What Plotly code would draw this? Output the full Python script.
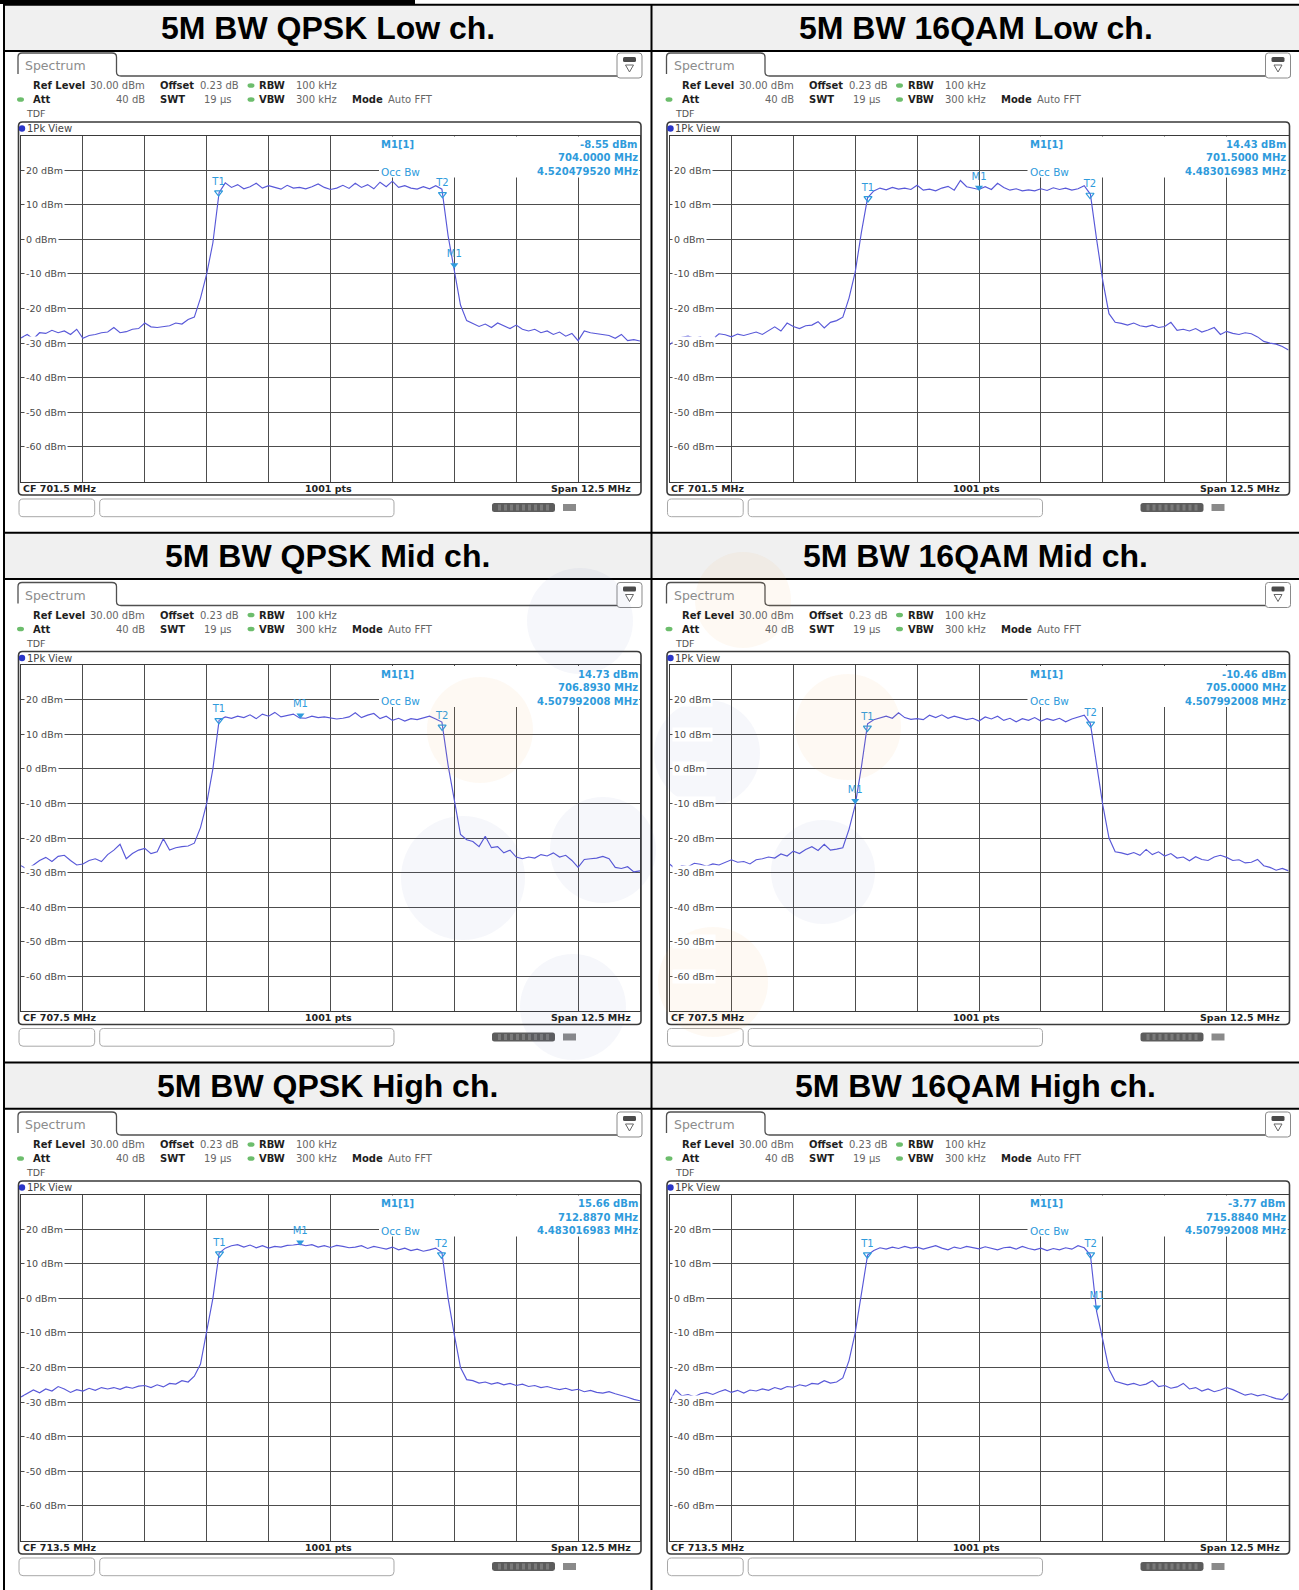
import numpy as np
import plotly.graph_objects as go

W, H = 1299, 1590

# ---------------- data ----------------
titles = ["5M BW QPSK Low ch.", "5M BW 16QAM Low ch.",
          "5M BW QPSK Mid ch.", "5M BW 16QAM Mid ch.",
          "5M BW QPSK High ch.", "5M BW 16QAM High ch."]
center_freqs = [701.5, 701.5, 707.5, 707.5, 713.5, 713.5]
span = 12.5
sweep_points = 101
offsets = np.linspace(-span / 2, span / 2, sweep_points)  # MHz from CF

y_ticks = [-60, -50, -40, -30, -20, -10, 0, 10, 20]
y_tick_text = [f"{v} dBm" for v in y_ticks]

qpsk_low = [
    -28.5, -27.5, -28.8, -27, -27.2, -26.3, -27, -26.5, -27.5, -26, -28.6, -27.8, -27.5, -27,
    -26.8, -25.5, -27, -26.7, -26, -25.8, -24.2, -25.3, -25.5, -25.2, -25, -24.2, -24.5, -23.2,
    -22.5, -17, -10, -1, 13.5,
    16.3, 15, 15.8, 14.6, 15.2, 16.2, 14.8, 15.5, 15, 14.5, 15.6, 14.8, 15, 14.6, 15.2, 16, 15,
    14.4, 14.8, 15.6, 14.7, 16.2, 15, 15.8, 14.6, 16.5, 15.2, 16.8, 15, 15.5, 14.8, 14.5, 15.2,
    14.6, 15.5,
    14.5, 1, -8.6, -19, -23.5,
    -24.3, -25.2, -24.5, -25.5, -24.2, -25, -25.8, -24.8, -26, -26.5, -26, -27, -26.5, -27.5,
    -26.8, -28, -27.2, -29.3, -26.5, -27, -27.2, -27.5, -27.8, -28.6, -27.5, -29.3, -29, -29.4]

qam16_low = [
    -30.5, -29, -28.3, -28, -28.6, -28.2, -29.5, -28.8, -27.3, -27.6, -28.2, -27.4, -27.8, -27.3,
    -26.8, -27.5, -26.5, -25.3, -26.5, -24.2, -25.2, -25.8, -25, -24.8, -23.8, -25.6, -24, -23.5,
    -22.5, -17, -9.5, 2, 12,
    14, 14.8, 14.3, 15, 14.5, 14.8, 14.4, 15.6, 14.2, 14.5, 14.0, 14.8, 15.3, 14.2, 17.0, 15.2,
    14.8, 14.4, 15.2, 14.4, 16.2, 15.0, 14.2, 14.6, 14.0, 14.3, 14.0, 14.6, 14.1, 14.9, 14.4,
    14.8, 14.2, 14.6, 15.5,
    13, 0, -12, -21.5, -24,
    -24.3, -24.8, -24.2, -25, -25.3, -24.8, -25.5, -25.2, -24, -26.3, -26, -26.5, -25.8, -26.8,
    -26.2, -25.5, -27.5, -26.6, -27.2, -27.5, -27, -27.3, -28.2, -29.5, -30, -30.3, -31, -32]

qpsk_mid = [
    -28, -29, -27.8, -26.5, -25.6, -26.8, -25.3, -25, -26.5, -27.8, -27.5, -26.5, -26, -26.8,
    -24.8, -23.5, -21.8, -26, -24.5, -23.5, -23, -24.5, -24, -20.2, -23.5, -22.8, -22.5, -22.3,
    -21.5, -17, -10, 0, 14,
    15, 14.6, 15.2, 14.8, 15.6, 14.5, 15.8, 15.2, 16.3, 15, 15.5, 15.8, 14.7, 14.6, 15.2, 14.8,
    15, 14.6, 14.4, 14.6, 15.0, 16.2, 14.8, 15.5, 16, 14.5, 15.2, 14.0, 14.6, 13.8, 14.5, 14.2,
    14.8, 15.2, 14.4,
    13.5, 1, -8.7, -19, -20.5,
    -21, -22.5, -19.5, -22.8, -22.5, -24.3, -23.5, -25.5, -26, -25.5, -25.8, -24.8, -25.2, -24.3,
    -25.5, -25, -26.5, -28.5, -26.2, -26, -25.8, -25.3, -26, -28.5, -28.8, -28.3, -29.8, -29.5]

qam16_mid = [
    -27.5, -29, -28, -28.3, -27.3, -27.6, -28.2, -27.5, -27.8, -27, -26.3, -27, -26.8, -27.5,
    -26.3, -26, -25.5, -25.8, -24.6, -25.2, -23.8, -24.5, -23.3, -22.5, -23.6, -21.8, -23.5, -23.2,
    -22.8, -17.5, -10.5, 0.5, 13,
    14.2, 14.8, 15.2, 14.6, 16.2, 14.8, 14.3, 14.5, 14.2, 15.5, 14.8, 15.6, 14.6, 15.2, 14.8,
    14.2, 14.6, 13.8, 15.0, 14.4, 15.2, 14.0, 14.6, 13.6, 14.5, 14.0, 14.8, 13.8, 14.5, 14.0,
    14.6, 13.6, 14.4, 15.0, 15.5,
    13, 0.5, -10.5, -20, -24,
    -24.3, -24.8, -24.2, -25, -23.3, -24.8, -24, -25.2, -24.5, -25.8, -25.5, -26.6, -25.4, -26.2,
    -26.5, -25.5, -25, -25.6, -26.5, -26.3, -27.2, -27, -26.2, -28, -28.5, -29.3, -28.8, -29.5]

qpsk_high = [
    -28.5, -27.5, -26.5, -27.3, -26.2, -26.8, -25.5, -26.2, -27.2, -26.4, -26.8, -26, -26.6, -25.8,
    -26.2, -25.8, -26.3, -25.6, -26, -25.4, -25.2, -25.8, -25, -25.6, -24.6, -24.8, -23.8, -24.2,
    -22.5, -19, -10, 0, 13,
    14.5, 15.2, 15.5, 14.8, 15.4, 14.6, 15.2, 14.5, 15, 14.8, 15.3, 15.4, 15.66, 15.2, 15.5, 14.8,
    15.2, 14.7, 15.3, 15.0, 14.6, 14.8, 15.2, 14.4, 15.0, 14.6, 14.2, 14.8, 14.0, 14.5, 13.8,
    14.2, 13.6, 14.0, 14.5,
    13.2, 0, -10.5, -20, -23.5,
    -23.8, -24.5, -24.2, -24.8, -24.4, -25, -24.6, -25.2, -24.8, -25.5, -25.2, -25.8, -25.5, -26,
    -26.4, -26, -26.6, -26.3, -27, -26.6, -27.2, -27.4, -27, -27.6, -28, -28.6, -29.2, -29.6]

qam16_high = [
    -30, -26.5, -28.2, -27.8, -28.5, -27.6, -27.2, -27.8, -27, -26.4, -27.2, -26.6, -27.4, -26.5,
    -26.8, -26.2, -26.6, -25.8, -26.3, -25.5, -25.7, -25, -25.4, -24.6, -24.8, -23.8, -24.5, -24.2,
    -23, -18, -10, 1, 12.5,
    13.8, 14.6, 14.2, 14.8, 14.4, 15.0, 14.5, 14.8, 14.2, 14.6, 15.2, 14.5, 14.0, 14.8, 14.4,
    15.0, 14.6, 14.3, 14.9, 14.5, 14.0, 14.6, 14.8, 14.2, 15.0, 14.4, 14.0, 14.5, 13.8, 14.4,
    14.0, 14.6, 14.2, 15.2, 14.6,
    12.5, -3.8, -12, -20.5, -24,
    -24.5, -25, -24.6, -25.2, -24.8, -23.8, -25.5, -25.2, -26, -25.6, -24.6, -26.2, -25.8, -26.8,
    -26.2, -27, -26.5, -25.8, -26.4, -27.2, -28, -27.6, -28.2, -27.8, -28.4, -29, -29.3, -27.4]

traces_levels = [qpsk_low, qam16_low, qpsk_mid, qam16_mid, qpsk_high, qam16_high]

occ_bw = [4.520479520, 4.483016983, 4.507992008, 4.507992008, 4.483016983, 4.507992008]
m1_freqs = [704.0, 701.5, 706.893, 705.0, 712.887, 715.884]
m1_levels = [-8.55, 14.43, 14.73, -10.46, 15.66, -3.77]
# heights (dBm) at which the marker triangles are drawn
t1_marks = [13.5, 11.8, 14.0, 11.8, 12.9, 12.6]
t2_marks = [13.0, 12.8, 12.1, 13.0, 12.6, 12.6]
m1_marks = [-7.4, 15.0, 15.5, -9.2, 16.2, -2.6]

# ---------------- helpers ----------------
shapes, annotations = [], []
TRACE = "#5858d8"
MK = "#2f9bdc"
GRID = "#4d4d4d"


def P(x, y):
    return f"{x / W:.6f},{1 - y / H:.6f}"


def rrect_d(x0, y0, x1, y1, r):
    return (f"M{P(x0 + r, y0)} L{P(x1 - r, y0)} Q{P(x1, y0)} {P(x1, y0 + r)} "
            f"L{P(x1, y1 - r)} Q{P(x1, y1)} {P(x1 - r, y1)} L{P(x0 + r, y1)} "
            f"Q{P(x0, y1)} {P(x0, y1 - r)} L{P(x0, y0 + r)} Q{P(x0, y0)} {P(x0 + r, y0)} Z")


def path(d, color=None, width=1.0, fill=None, layer="above"):
    shapes.append(dict(type="path", xref="paper", yref="paper", path=d, layer=layer,
                       line=dict(color=color or "rgba(0,0,0,0)", width=width if color else 0),
                       fillcolor=fill or "rgba(0,0,0,0)"))


def rect(x0, y0, x1, y1, fill, layer="below"):
    shapes.append(dict(type="rect", xref="paper", yref="paper", x0=x0 / W, x1=x1 / W,
                       y0=1 - y1 / H, y1=1 - y0 / H, fillcolor=fill,
                       line=dict(width=0, color=fill), layer=layer))


def hline(x0, x1, y, color="black", width=2, layer="above"):
    shapes.append(dict(type="line", xref="paper", yref="paper", x0=x0 / W, x1=x1 / W,
                       y0=1 - y / H, y1=1 - y / H, line=dict(color=color, width=width), layer=layer))


def vline(x, y0, y1, color="black", width=2, layer="above"):
    shapes.append(dict(type="line", xref="paper", yref="paper", x0=x / W, x1=x / W,
                       y0=1 - y0 / H, y1=1 - y1 / H, line=dict(color=color, width=width), layer=layer))


def ellipse(cx, cy, rx, ry, fill, layer="above"):
    shapes.append(dict(type="circle", xref="paper", yref="paper", x0=(cx - rx) / W, x1=(cx + rx) / W,
                       y0=1 - (cy + ry) / H, y1=1 - (cy - ry) / H, fillcolor=fill,
                       line=dict(width=0, color=fill), layer=layer))


def txt(x, y, s, size=10, color="#222", anchor="left", bold=False, family="DejaVu Sans"):
    annotations.append(dict(xref="paper", yref="paper", x=x / W, y=1 - y / H,
                            text=f"<b>{s}</b>" if bold else s, showarrow=False,
                            xanchor=anchor, yanchor="middle", borderpad=0, borderwidth=0,
                            font=dict(family=family, size=size, color=color)))


# ---------------- table frame ----------------
title_tops = [4.7, 532.8, 1062.5]
title_h = 46.3
for r, top in enumerate(title_tops):
    rect(4, top, W, top + title_h, "#f0f0f0")
    txt(327.8, top + title_h / 2 + 0.5, titles[2 * r], 32, "black", "center", True, "Liberation Sans")
    txt(975.5, top + title_h / 2 + 0.5, titles[2 * r + 1], 32, "black", "center", True, "Liberation Sans")

fig = go.Figure()

col_dx = [0, 648.5]
row_dy = [0, 529.5, 1059]
GX0, GX1, GY0, GY1 = 21, 640, 135.5, 481.5

layout_axes = {}
for k in range(6):
    r, c = divmod(k, 2)
    ox, oy = col_dx[c], row_dy[r]
    cf = center_freqs[k]
    ax = "" if k == 0 else str(k + 1)
    xa, ya = "x" + ax, "y" + ax

    layout_axes["xaxis" + ax] = dict(
        domain=[(GX0 + ox) / W, (GX1 + ox) / W], range=[cf - span / 2, cf + span / 2],
        tick0=cf - span / 2, dtick=span / 10, showgrid=True, gridcolor=GRID, gridwidth=1,
        showticklabels=False, ticks="", zeroline=False, showline=True, mirror=True,
        linecolor="#3a3a3a", linewidth=1.2, anchor=ya, fixedrange=True)
    layout_axes["yaxis" + ax] = dict(
        domain=[1 - (GY1 + oy) / H, 1 - (GY0 + oy) / H], range=[-70, 30],
        tickvals=y_ticks, showticklabels=False, ticks="",
        showgrid=True, gridcolor=GRID, gridwidth=1, zeroline=False, showline=True, mirror=True,
        linecolor="#3a3a3a", linewidth=1.2, anchor=xa, fixedrange=True)

    # y labels drawn inside the grid on a white backing (cuts the grid line like the instrument)
    for v, t in zip(y_ticks, y_tick_text):
        annotations.append(dict(xref=f"{xa} domain", yref=ya, x=2.5 / (GX1 - GX0), y=v,
                                text=t, showarrow=False, xanchor="left", yanchor="middle",
                                bgcolor="white", borderpad=1,
                                font=dict(family="DejaVu Sans", size=9.5, color="#4a4a4a")))

    freqs = cf + offsets
    fig.add_trace(go.Scatter(x=freqs, y=traces_levels[k], mode="lines", xaxis=xa, yaxis=ya,
                             line=dict(color=TRACE, width=1.15), hoverinfo="skip"))
    t1 = cf - occ_bw[k] / 2
    t2 = cf + occ_bw[k] / 2
    fig.add_trace(go.Scatter(x=[t1, t2], y=[t1_marks[k], t2_marks[k]], mode="markers+text",
                             text=["T1", "T2"], textposition="top center", xaxis=xa, yaxis=ya,
                             textfont=dict(family="DejaVu Sans", size=10, color=MK),
                             marker=dict(symbol="triangle-down-open", size=7, color=MK,
                                         line=dict(width=1.2, color=MK)), hoverinfo="skip"))
    fig.add_trace(go.Scatter(x=[m1_freqs[k]], y=[m1_marks[k]], mode="markers+text",
                             text=["M1"], textposition="top center", xaxis=xa, yaxis=ya,
                             textfont=dict(family="DejaVu Sans", size=10, color=MK),
                             marker=dict(symbol="triangle-down", size=7, color=MK),
                             hoverinfo="skip"))

    # ---- instrument chrome ----
    X = lambda v: v + ox
    Y = lambda v: v + oy
    # white panel under marker readout (hides grid there)
    rect(X(379), Y(136.6), X(639.2), Y(177.5), "white", layer="above")
    # tab + header line
    path(f"M{P(X(18), Y(74))} L{P(X(18), Y(57))} Q{P(X(18), Y(53))} {P(X(22), Y(53))} "
         f"L{P(X(112), Y(53))} Q{P(X(116.5), Y(53))} {P(X(116.5), Y(57))} L{P(X(116.5), Y(72))} "
         f"Q{P(X(116.5), Y(76))} {P(X(121), Y(76))} L{P(X(642), Y(76))}", "#505050", 1.3)
    txt(X(25), Y(65.5), "Spectrum", 12.5, "#8c8c8c")
    # icon top right
    path(rrect_d(X(617), Y(53), X(642), Y(78), 3), "#8a8a8a", 1, "white")
    path(rrect_d(X(623), Y(57), X(636), Y(62), 1.5), None, 0, "#4a4a4a")
    path(f"M{P(X(625.5), Y(65))} L{P(X(633.5), Y(65))} L{P(X(629.5), Y(72))} Z", "#666", 1)
    # info header
    txt(X(33), Y(85.5), "Ref Level", 10, "#1e1e1e", bold=True)
    txt(X(145), Y(85.5), "30.00 dBm", 10, "#666", "right")
    txt(X(160), Y(85.5), "Offset", 10, "#1e1e1e", bold=True)
    txt(X(200), Y(85.5), "0.23 dB", 10, "#666")
    txt(X(259), Y(85.5), "RBW", 10, "#1e1e1e", bold=True)
    txt(X(296), Y(85.5), "100 kHz", 10, "#666")
    txt(X(33), Y(99.5), "Att", 10, "#1e1e1e", bold=True)
    txt(X(145), Y(99.5), "40 dB", 10, "#666", "right")
    txt(X(160), Y(99.5), "SWT", 10, "#1e1e1e", bold=True)
    txt(X(231), Y(99.5), "19 µs", 10, "#666", "right")
    txt(X(259), Y(99.5), "VBW", 10, "#1e1e1e", bold=True)
    txt(X(296), Y(99.5), "300 kHz", 10, "#666")
    txt(X(352), Y(99.5), "Mode", 10, "#1e1e1e", bold=True)
    txt(X(388), Y(99.5), "Auto FFT", 10, "#666")
    txt(X(26), Y(113.5), "TDF", 9.5, "#555")
    for gx, gy in [(251, 85.5), (251, 99.5), (20.5, 99.5)]:
        ellipse(X(gx), Y(gy), 3.5, 2.3, "#6cbd6c")
    # diagram frame
    path(rrect_d(X(18.5), Y(122), X(641), Y(495), 4), "#3a3a3a", 1.6)
    ellipse(X(22), Y(128.5), 3.2, 3.2, "#2a35c8")
    txt(X(26.5), Y(128.5), "1Pk View", 10, "#444")
    # marker readout
    txt(X(381), Y(144.5), "M1[1]", 10, MK, bold=True)
    txt(X(637.5), Y(144.5), f"{m1_levels[k]:.2f} dBm", 10, MK, "right", True)
    txt(X(637.5), Y(158), f"{m1_freqs[k]:.4f} MHz", 10, MK, "right", True)
    txt(X(381), Y(171.5), "Occ Bw", 10.5, MK)
    txt(X(637.5), Y(171.5), f"{occ_bw[k]:.9f} MHz", 10, MK, "right", True)
    # bottom bar
    txt(X(23), Y(488.3), f"CF {cf} MHz", 9.5, "#222", bold=True)
    txt(X(328), Y(488.3), f"{sweep_points * 10 - 9} pts", 9.5, "#222", "center", True)
    txt(X(631), Y(488.3), f"Span {span} MHz", 9.5, "#222", "right", True)
    # lower status boxes
    path(rrect_d(X(19), Y(499), X(94.7), Y(516.7), 4), "#a8a8a8", 1, "white")
    path(rrect_d(X(99.7), Y(499), X(394), Y(516.7), 4), "#a8a8a8", 1, "white")
    path(rrect_d(X(492), Y(503), X(555), Y(512), 2.5), None, 0, "#5c5c5c")
    for sx in range(498, 552, 6):
        rect(X(sx), Y(504.5), X(sx + 3), Y(510.5), "#7a7a7a", layer="above")
    rect(X(563), Y(504), X(576), Y(511), "#8a8a8a", layer="above")

# table borders
rect(0, 0, 415, 4, "black", layer="above")
hline(3, W, 4.7)
for top in title_tops:
    hline(3, W, top + title_h)
    if top > 10:
        hline(3, W, top)
vline(4, 4.7, H)
vline(651.5, 4.7, H)

# faint watermark over the middle row
blue = "rgba(70,100,170,0.05)"
orange = "rgba(245,165,80,0.07)"
for cx, cy, rr in [(580, 621, 53), (463, 878, 62), (603, 850, 53), (573, 1007, 53),
                   (707, 753, 53), (823, 872, 52)]:
    ellipse(cx, cy, rr, rr, blue)
for cx, cy, rr in [(480, 730, 53), (743, 600, 48), (848, 727, 53), (713, 982, 55)]:
    ellipse(cx, cy, rr, rr, orange)

fig.update_layout(width=W, height=H, margin=dict(l=0, r=0, t=0, b=0), showlegend=False,
                  paper_bgcolor="white", plot_bgcolor="rgba(0,0,0,0)",
                  shapes=shapes, annotations=annotations, **layout_axes)

fig.write_html("out.html", config={"displayModeBar": False},
               post_script="document.body.style.margin='0px';")
